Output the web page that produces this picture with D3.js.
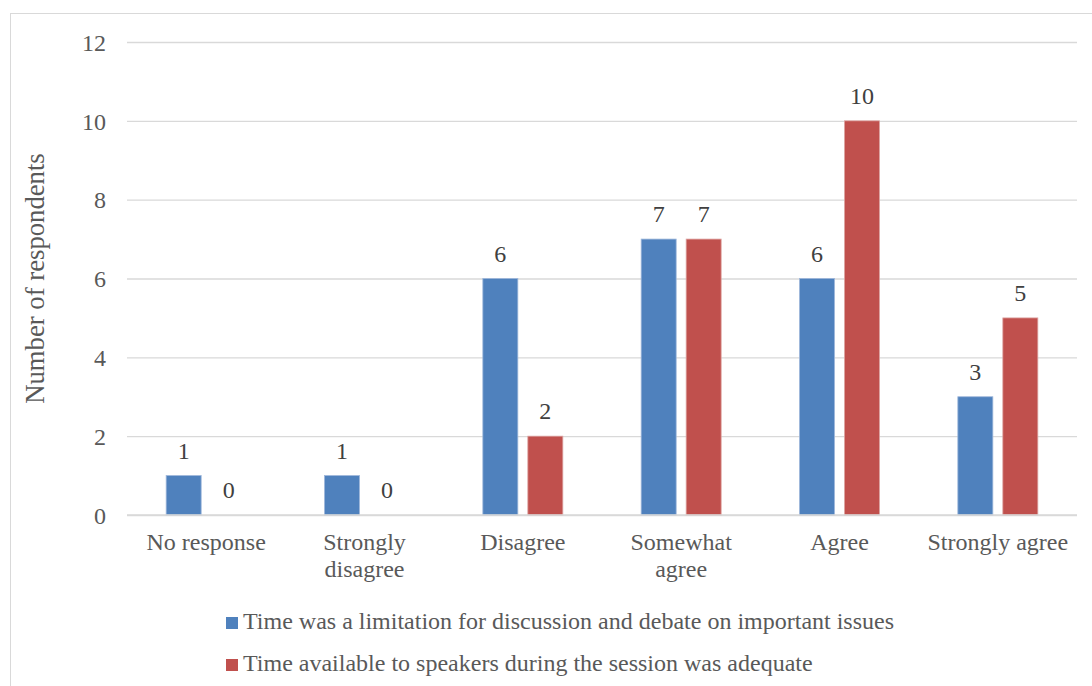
<!DOCTYPE html>
<html>
<head>
<meta charset="utf-8">
<script src="https://cdn.jsdelivr.net/npm/d3@7"></script>
<style>
  html, body { margin: 0; padding: 0; background: #fff; }
  svg text { font-family: 'Liberation Serif'; }
</style>
</head>
<body>
<svg id="chart" width="1092" height="686"></svg>
<script>
const categories = ["No response", "Strongly disagree", "Disagree", "Somewhat agree", "Agree", "Strongly agree"];
const seriesNames = [
  "Time was a limitation for discussion and debate on important issues",
  "Time available to speakers during the session was adequate"
];
const limitationValues = [1, 1, 6, 7, 6, 3];
const adequateValues = [0, 0, 2, 7, 10, 5];
const yTicks = [0, 2, 4, 6, 8, 10, 12];
const colors = ["#4F81BD", "#C0504D"];

const FONT = "Liberation Serif";
const FS = 24;

const svg = d3.select("#chart");
const W = 1092, H = 686;
const plot = { left: 127, right: 1077, top: 42, bottom: 515 };

function styleText(sel, fill) {
  return sel.attr("fill", fill).attr("font-size", FS).style("font-family", FONT);
}

// chart frame
svg.append("rect").attr("x", 10.5).attr("y", 13.5).attr("width", W + 20).attr("height", H + 20)
  .attr("fill", "#fff").attr("stroke", "#D9D9D9").attr("stroke-width", 1);

const y = d3.scaleLinear().domain([0, 12]).range([plot.bottom, plot.top]);
const x0 = d3.scaleBand().domain(categories).range([plot.left, plot.right]).paddingInner(0.4948).paddingOuter(0.2474);
const x1 = d3.scaleBand().domain([0, 1]).range([0, x0.bandwidth()]).paddingInner(0.2222);

// gridlines + y ticks
const yAxis = d3.axisLeft(y).tickValues(yTicks).tickSize(-(plot.right - plot.left)).tickPadding(21).tickFormat(d3.format("d"));
const gy = svg.append("g").attr("transform", `translate(${plot.left},0)`).call(yAxis);
gy.attr("font-family", null).attr("font-size", null);
gy.select(".domain").remove();
gy.selectAll(".tick line").attr("stroke", "#D9D9D9").attr("stroke-width", 1.3);
styleText(gy.selectAll(".tick text"), "#595959").attr("dy", "0.34em");

// y axis title
styleText(svg.append("text").attr("transform", `translate(44,${(plot.top + plot.bottom) / 2}) rotate(-90)`)
  .attr("text-anchor", "middle"), "#595959")
  .attr("font-size", 26.7)
  .text("Number of respondents");

const data = categories.map((c, i) => ({ cat: c, vals: [limitationValues[i], adequateValues[i]] }));

const groups = svg.append("g").selectAll("g").data(data).join("g")
  .attr("transform", d => `translate(${x0(d.cat)},0)`);

groups.selectAll("rect").data(d => d.vals.map((v, s) => ({ v, s }))).join("rect")
  .attr("x", d => x1(d.s)).attr("width", x1.bandwidth())
  .attr("y", d => y(d.v)).attr("height", d => y(0) - y(d.v))
  .attr("fill", d => colors[d.s])
  .attr("stroke", d => d.s === 0 ? "#9DB6DA" : "#DDA3A1").attr("stroke-width", 0.8);

styleText(groups.selectAll("text.lbl").data(d => d.vals.map((v, s) => ({ v, s }))).join("text")
  .attr("class", "lbl")
  .attr("x", d => x1(d.s) + x1.bandwidth() / 2).attr("y", d => y(d.v) - 17)
  .attr("text-anchor", "middle"), "#404040")
  .text(d => d.v);

// baseline
svg.append("line").attr("x1", plot.left).attr("x2", plot.right).attr("y1", plot.bottom).attr("y2", plot.bottom)
  .attr("stroke", "#D9D9D9").attr("stroke-width", 1.5);

// x axis
const xAxis = d3.axisBottom(x0).tickSize(0).tickPadding(0);
const gx = svg.append("g").attr("transform", `translate(0,${plot.bottom})`).call(xAxis);
gx.attr("font-family", null).attr("font-size", null);
gx.select(".domain").remove();
styleText(gx.selectAll(".tick text"), "#595959")
  .each(function (d) {
    const t = d3.select(this);
    const words = d.split(" ");
    t.text(null);
    let line = [], lines = [];
    const tmp = t.append("tspan");
    for (const w of words) {
      line.push(w);
      tmp.text(line.join(" "));
      if (tmp.node().getComputedTextLength() > 150 && line.length > 1) {
        line.pop();
        lines.push(line.join(" "));
        line = [w];
      }
    }
    lines.push(line.join(" "));
    tmp.remove();
    t.attr("y", 0).attr("dy", null);
    lines.forEach((l, i) => {
      t.append("tspan").attr("x", 0).attr("y", 35 + i * 27).text(l);
    });
  });

// legend
const legend = svg.append("g");
seriesNames.forEach((name, i) => {
  const g = legend.append("g").attr("transform", `translate(226,${617 + i * 42})`);
  g.append("rect").attr("width", 12).attr("height", 12).attr("fill", colors[i]);
  styleText(g.append("text").attr("x", 17).attr("y", 11.5), "#595959").text(name);
});
</script>
</body>
</html>
